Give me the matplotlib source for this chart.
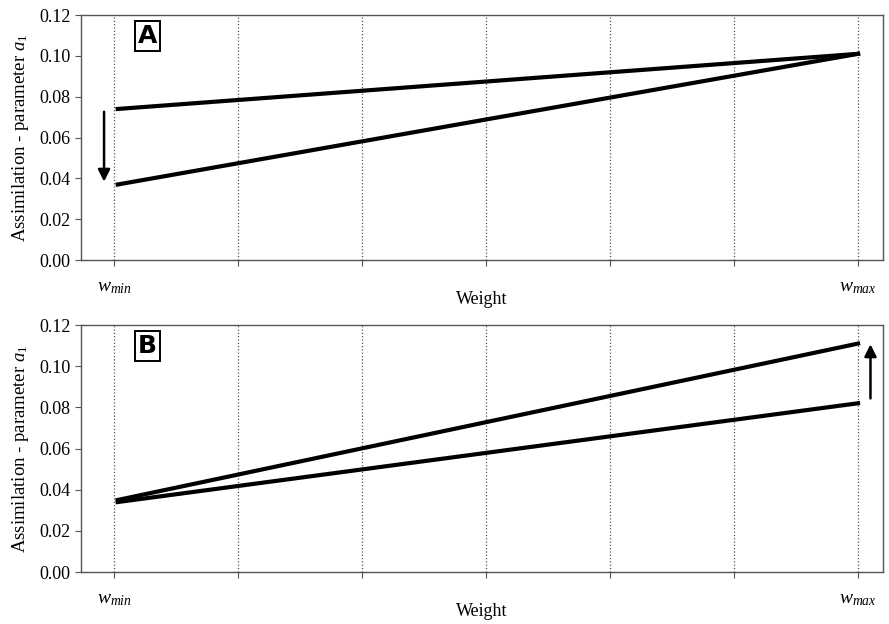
import matplotlib.pyplot as plt

plt.rcParams['font.family'] = ['Liberation Serif', 'DejaVu Serif']
plt.rcParams['mathtext.fontset'] = 'custom'
plt.rcParams['mathtext.rm'] = 'Liberation Serif'
plt.rcParams['mathtext.it'] = 'Liberation Serif:italic'

# weight positions (category index) and tick labels
pos = [0, 1, 2, 3, 4, 5, 6]
tick_labels = ['$w_{min}$', '', '', '', '', '', '$w_{max}$']
ends = [0, 6]

# panel A
a_high = [0.074, 0.101]
a_low = [0.037, 0.101]
a_arrow = [0.074, 0.037]

# panel B
b_high = [0.035, 0.111]
b_low = [0.034, 0.082]
b_arrow = [0.083, 0.112]

yticks = [0.00, 0.02, 0.04, 0.06, 0.08, 0.10, 0.12]

fig = plt.figure(figsize=(8.89, 6.24), dpi=100)
axA = fig.add_axes([0.0911, 0.5833, 0.902, 0.3926])
axB = fig.add_axes([0.0911, 0.0833, 0.902, 0.3958])


def style(ax, label):
    ax.set_xlim(-0.266, 6.2)
    ax.set_ylim(0, 0.12)
    ax.set_yticks(yticks)
    ax.set_yticklabels(['%.2f' % v for v in yticks], fontsize=13)
    ax.set_xticks(pos)
    ax.set_xticklabels(tick_labels, fontsize=14)
    ax.tick_params(axis='x', direction='out', length=4, pad=10, color='#555555')
    ax.tick_params(axis='y', direction='out', length=4, color='#555555')
    for x in pos:
        ax.axvline(x, color='#555555', linestyle=':', linewidth=0.9, zorder=0)
    for s in ax.spines.values():
        s.set_color('#555555')
        s.set_linewidth(1.0)
    ax.set_xlabel('Weight', fontsize=13, labelpad=-4)
    ax.set_ylabel('Assimilation - parameter $a_1$', fontsize=13.5, labelpad=6)
    ax.text(0.071, 0.915, label, transform=ax.transAxes, fontsize=18,
            fontweight='bold', family='DejaVu Sans', ha='left', va='center',
            bbox=dict(boxstyle='square,pad=0.12', fc='white', ec='black', lw=1.4))


style(axA, 'A')
axA.plot([0.03, 6], a_high, color='black', lw=3)
axA.plot([0.03, 6], a_low, color='black', lw=3)
axA.annotate('', xy=(-0.08, a_arrow[1]), xytext=(-0.08, a_arrow[0]),
             arrowprops=dict(arrowstyle='-|>', color='black', lw=1.8, mutation_scale=18))

style(axB, 'B')
axB.plot([0.03, 6], b_high, color='black', lw=3)
axB.plot([0.03, 6], b_low, color='black', lw=3)
axB.annotate('', xy=(6.1, b_arrow[1]), xytext=(6.1, b_arrow[0]),
             arrowprops=dict(arrowstyle='-|>', color='black', lw=1.8, mutation_scale=18))

fig.savefig('out.png', dpi=100)
